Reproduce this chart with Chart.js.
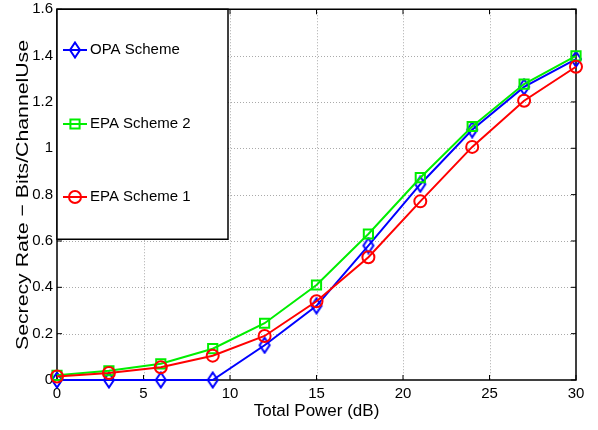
<!DOCTYPE html>
<html>
<head>
<meta charset="utf-8">
<script src="https://cdn.jsdelivr.net/npm/chart.js@4"></script>
<style>
  html, body { margin: 0; padding: 0; background: #fff; }
  #wrap { width: 598px; height: 430px; }
</style>
</head>
<body>
<div id="wrap"><canvas id="c" width="598" height="430"></canvas></div>
<script>
// values
const power = [0, 3, 6, 9, 12, 15, 18, 21, 24, 27, 30]
const opa  = [0, 0, 0, 0, 0.15, 0.32, 0.58, 0.845, 1.08, 1.265, 1.385]
const epa2 = [0.02, 0.04, 0.07, 0.135, 0.245, 0.41, 0.63, 0.873, 1.094, 1.277, 1.399]
const epa1 = [0.015, 0.03, 0.055, 0.105, 0.19, 0.34, 0.53, 0.771, 1.006, 1.205, 1.352]
const xTicks = [0, 5, 10, 15, 20, 25, 30]
const yTicks = [0, 0.2, 0.4, 0.6, 0.8, 1, 1.2, 1.4, 1.6]
const yTitle = "Secrecy Rate \u2212 Bits/ChannelUse"

const font = "Liberation Sans"

function pts(arr) { return arr.map((v, i) => ({x: power[i], y: v})) }

// matlab's diamond is taller than wide, so draw it into a small canvas
function diamond(color) {
  const c = document.createElement("canvas")
  c.width = 14; c.height = 18
  const g = c.getContext("2d")
  g.strokeStyle = color; g.lineWidth = 2
  g.beginPath()
  g.moveTo(7, 1.5); g.lineTo(12, 9); g.lineTo(7, 16.5); g.lineTo(2, 9); g.closePath()
  g.stroke()
  return c
}

// frame, dotted grid, inward ticks, y title and the boxed legend
const frame = {
  id: "frame",
  beforeDatasetsDraw(chart) {
    const {ctx, chartArea: a, scales} = chart
    ctx.save()
    ctx.strokeStyle = "#aaa"
    ctx.lineWidth = 1
    ctx.setLineDash([1, 2])
    ctx.beginPath()
    xTicks.slice(1, -1).forEach(t => {
      const x = Math.round(scales.x.getPixelForValue(t)) + 0.5
      ctx.moveTo(x, a.top); ctx.lineTo(x, a.bottom)
    })
    yTicks.slice(1, -1).forEach(t => {
      const y = Math.round(scales.y.getPixelForValue(t)) + 0.5
      ctx.moveTo(a.left, y); ctx.lineTo(a.right, y)
    })
    ctx.stroke()
    ctx.setLineDash([])
    ctx.strokeStyle = "#000"
    ctx.beginPath()
    xTicks.forEach(t => {
      const x = scales.x.getPixelForValue(t)
      ctx.moveTo(x, a.bottom); ctx.lineTo(x, a.bottom - 5)
      ctx.moveTo(x, a.top); ctx.lineTo(x, a.top + 5)
    })
    yTicks.forEach(t => {
      const y = scales.y.getPixelForValue(t)
      ctx.moveTo(a.left, y); ctx.lineTo(a.left + 5, y)
      ctx.moveTo(a.right, y); ctx.lineTo(a.right - 5, y)
    })
    ctx.stroke()
    ctx.lineWidth = 1.5
    ctx.strokeRect(a.left, a.top, a.right - a.left, a.bottom - a.top)

    // y title, stretched along its length like the original
    ctx.translate(23, 195)
    ctx.rotate(-Math.PI / 2)
    ctx.scale(1.25, 1)
    ctx.fillStyle = "#000"
    ctx.font = "17px '" + font + "'"
    ctx.textAlign = "center"
    ctx.textBaseline = "middle"
    ctx.fillText(yTitle, 0, 0)
    ctx.restore()
  },
  afterDraw(chart) {
    const {ctx, chartArea: a} = chart
    const bx = a.left, by = a.top, bw = 171, bh = 230
    ctx.save()
    ctx.fillStyle = "#fff"
    ctx.fillRect(bx, by, bw, bh)
    ctx.strokeStyle = "#000"
    ctx.lineWidth = 1.5
    ctx.strokeRect(bx, by, bw, bh)
    const rows = [50, 124, 197]
    chart.data.datasets.forEach((ds, i) => {
      const y = rows[i], x0 = bx + 6, x1 = bx + 30, xm = (x0 + x1) / 2
      ctx.strokeStyle = ds.borderColor
      ctx.lineWidth = 2
      ctx.beginPath(); ctx.moveTo(x0, y); ctx.lineTo(x1, y); ctx.stroke()
      ctx.fillStyle = "rgba(0,0,0,0)"
      Chart.helpers.drawPoint(ctx, {pointStyle: ds.pointStyle, radius: ds.pointRadius, borderWidth: 2}, xm, y)
      ctx.fillStyle = "#000"
      ctx.font = "15px '" + font + "'"
      ctx.textAlign = "left"
      ctx.textBaseline = "middle"
      ctx.fillText(ds.label, x1 + 3, y)
    })
    ctx.restore()
  }
}

new Chart("c", {
  type: "line",
  data: {
    datasets: [
      {label: "OPA Scheme", data: pts(opa), borderColor: "#0000ff", pointStyle: diamond("#0000ff"), pointRadius: 6, order: 2},
      {label: "EPA Scheme 2", data: pts(epa2), borderColor: "#00ee00", pointStyle: "rect", pointRadius: 6.5, order: 1},
      {label: "EPA Scheme 1", data: pts(epa1), borderColor: "#ff0000", pointStyle: "circle", pointRadius: 6, order: 0}
    ].map(d => Object.assign(d, {borderWidth: 2, pointBorderWidth: 2, pointBorderColor: d.borderColor, pointBackgroundColor: "rgba(0,0,0,0)", fill: false, tension: 0, clip: false}))
  },
  options: {
    responsive: false,
    animation: false,
    layout: {padding: {top: 0, right: 22, left: 0, bottom: 0}},
    plugins: {legend: {display: false}, tooltip: {enabled: false}},
    scales: {
      x: {
        type: "linear", min: 0, max: 30,
        afterBuildTicks: s => { s.ticks = xTicks.map(v => ({value: v})) },
        afterFit: s => { s.height = 50 },
        grid: {display: false, drawTicks: false},
        border: {display: false},
        ticks: {color: "#000", padding: 5, font: {family: font, size: 15}, maxRotation: 0},
        title: {display: true, text: "Total Power (dB)", color: "#000", padding: {top: 0, bottom: 8}, font: {family: font, size: 17}}
      },
      y: {
        min: 0, max: 1.6,
        afterBuildTicks: s => { s.ticks = yTicks.map(v => ({value: v})) },
        afterFit: s => { s.width = 57 },
        grid: {display: false, drawTicks: false},
        border: {display: false},
        ticks: {color: "#000", padding: 4, font: {family: font, size: 15, lineHeight: 0.7}, callback: v => String(+v.toFixed(1))}
      }
    }
  },
  plugins: [frame]
})
</script>
</body>
</html>
